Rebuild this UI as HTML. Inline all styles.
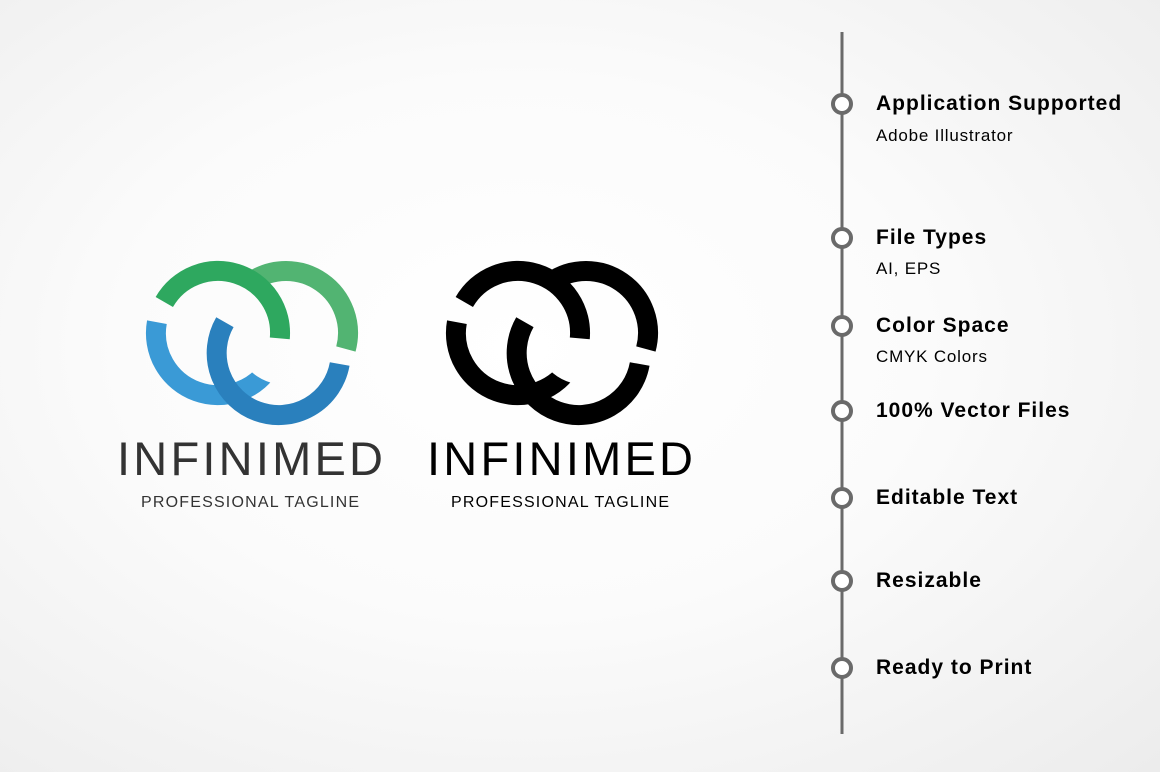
<!DOCTYPE html>
<html><head><style>
body{margin:0;width:1160px;height:772px;overflow:hidden;background:radial-gradient(ellipse at 45% 45%,#fff 0%,#fbfbfb 45%,#ececec 100%);font-family:"Liberation Sans",sans-serif;}
.t{position:absolute;left:876px;font-weight:bold;font-size:21px;letter-spacing:1px;color:#000;}
.s{position:absolute;left:876px;font-size:17px;letter-spacing:0.8px;color:#000;}
</style></head><body>
<svg width="1160" height="772" style="position:absolute;left:0;top:0">
<defs>
<mask id="m1" maskUnits="userSpaceOnUse" x="0" y="0" width="1160" height="772">
<rect width="1160" height="772" fill="#fff"/><circle cx="286" cy="333" r="52" fill="#000"/><circle cx="586" cy="333" r="52" fill="#000"/>
</mask>
</defs>
<g fill="none" stroke-width="20">
 <path d="M156.9 322.2 A62 62 0 0 0 271.7 364" stroke="#3a9ad6" mask="url(#m1)"/>
 <path d="M345.9 349 A62 62 0 0 0 250.4 282.2" stroke="#52b472"/>
 <path d="M224.9 322.2 A62 62 0 1 0 339.7 364" stroke="#2a80bd"/>
 <path d="M164.3 302 A62 62 0 0 1 279.8 338.4" stroke="#2ea85f"/>
 <g stroke="#000">
 <path d="M456.9 322.2 A62 62 0 0 0 571.7 364" mask="url(#m1)"/>
 <path d="M645.9 349 A62 62 0 0 0 550.4 282.2"/>
 <path d="M524.9 322.2 A62 62 0 1 0 639.7 364"/>
 <path d="M464.3 302 A62 62 0 0 1 579.8 338.4"/>
 </g>
</g>
<text x="250" y="475" text-anchor="middle" font-family="Liberation Sans" font-size="47" fill="#333" textLength="266">INFINIMED</text>
<text x="250" y="507" text-anchor="middle" font-family="Liberation Sans" font-size="16" fill="#333" textLength="218">PROFESSIONAL TAGLINE</text>
<text x="560" y="475" text-anchor="middle" font-family="Liberation Sans" font-size="47" fill="#000" textLength="266">INFINIMED</text>
<text x="560" y="507" text-anchor="middle" font-family="Liberation Sans" font-size="16" fill="#000" textLength="218">PROFESSIONAL TAGLINE</text>
<line x1="842" y1="32" x2="842" y2="734" stroke="#6a6a6a" stroke-width="3"/>
<g fill="#fff" stroke="#6a6a6a" stroke-width="4">
<circle cx="842" cy="104" r="9"/><circle cx="842" cy="238" r="9"/><circle cx="842" cy="326" r="9"/>
<circle cx="842" cy="411" r="9"/><circle cx="842" cy="498" r="9"/><circle cx="842" cy="581" r="9"/><circle cx="842" cy="668" r="9"/>
</g>
</svg>
<div class="t" style="top:92px">Application Supported</div>
<div class="s" style="top:126px">Adobe Illustrator</div>
<div class="t" style="top:226px">File Types</div>
<div class="s" style="top:259px">AI, EPS</div>
<div class="t" style="top:314px">Color Space</div>
<div class="s" style="top:347px">CMYK Colors</div>
<div class="t" style="top:399px">100% Vector Files</div>
<div class="t" style="top:486px">Editable Text</div>
<div class="t" style="top:569px">Resizable</div>
<div class="t" style="top:656px">Ready to Print</div>
</body></html>
